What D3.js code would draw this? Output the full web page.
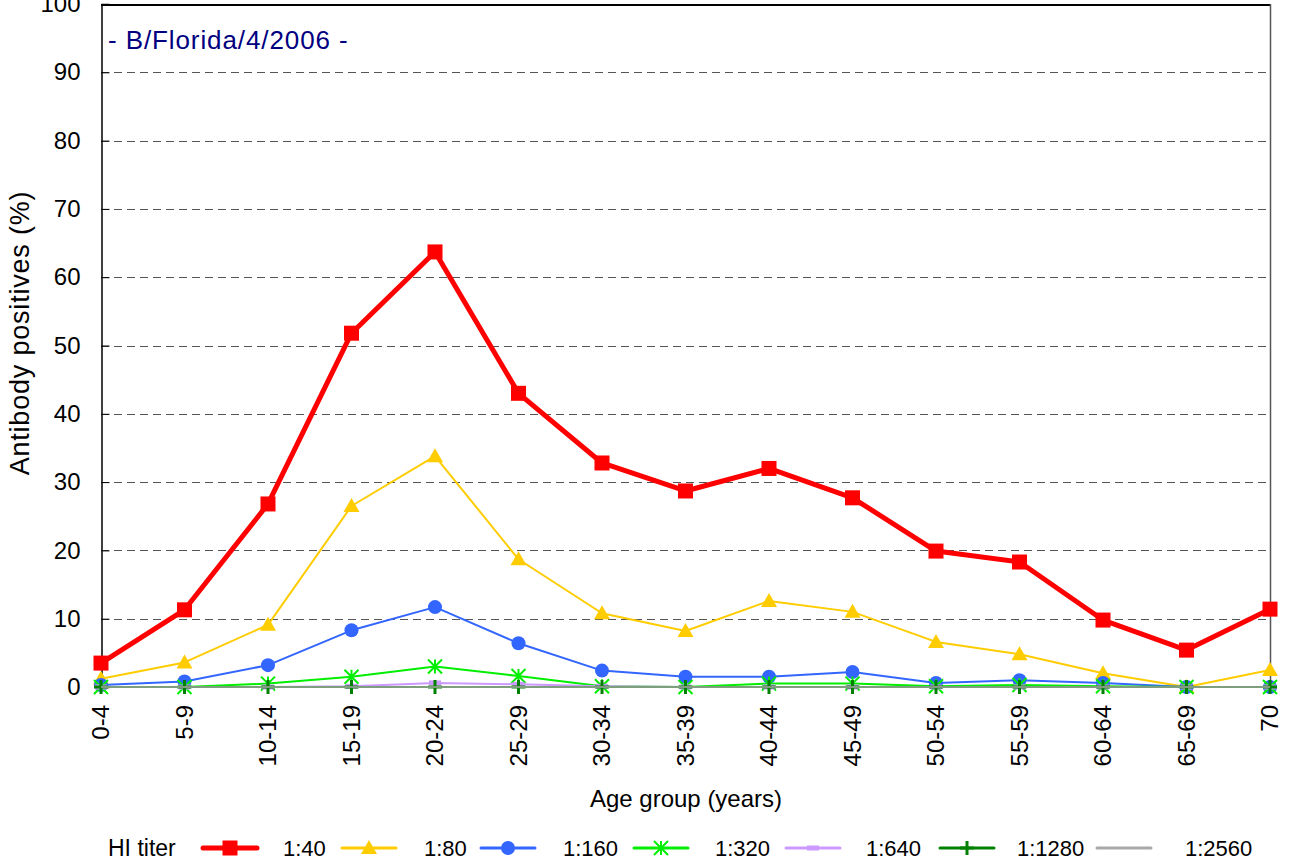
<!DOCTYPE html>
<html>
<head>
<meta charset="utf-8">
<script src="https://cdn.jsdelivr.net/npm/d3@7"></script>
<style>
  body { margin: 0; background: #fff; }
  svg { display: block; font-family: "Liberation Sans", Arial, sans-serif; }
</style>
</head>
<body>
<div id="chart"></div>
<script>
//******************************************************************************
//**  Antibody positives by age group
//******************************************************************************

// categories
var ageGroups = ["0-4","5-9","10-14","15-19","20-24","25-29","30-34","35-39",
                 "40-44","45-49","50-54","55-59","60-64","65-69","70"];

// series values (%)
var titer40   = [3.5, 11.3, 26.8, 51.8, 63.7, 43.0, 32.8, 28.7, 32.0, 27.7, 19.9, 18.3, 9.8, 5.4, 11.4];
var titer80   = [1.2, 3.6, 9.1, 26.5, 33.8, 18.7, 10.8, 8.2, 12.6, 11.0, 6.6, 4.8, 2.0, 0.0, 2.5];
var titer160  = [0.3, 0.8, 3.2, 8.3, 11.7, 6.4, 2.4, 1.5, 1.5, 2.2, 0.6, 1.0, 0.6, 0.0, 0.0];
var titer320  = [0.0, 0.0, 0.5, 1.5, 3.0, 1.6, 0.1, 0.0, 0.5, 0.5, 0.1, 0.3, 0.1, 0.0, 0.0];
var titer640  = [0.0, 0.0, 0.0, 0.1, 0.6, 0.4, 0.1, 0.0, 0.0, 0.0, 0.0, 0.0, 0.0, 0.0, 0.0];
var titer1280 = [0.0, 0.0, 0.0, 0.0, 0.0, 0.0, 0.0, 0.0, 0.0, 0.0, 0.0, 0.0, 0.0, 0.0, 0.0];
var titer2560 = [0.0, 0.0, 0.0, 0.0, 0.0, 0.0, 0.0, 0.0, 0.0, 0.0, 0.0, 0.0, 0.0, 0.0, 0.0];

// tick labels
var yTicks = [0, 10, 20, 30, 40, 50, 60, 70, 80, 90, 100];
var seriesNames = ["1:40","1:80","1:160","1:320","1:640","1:1280","1:2560"];


(function(){

  //**************************************************************************
  //** styles
  //**************************************************************************
    var series = [
        {name: seriesNames[0], values: titer40,   color: "#ff0000", width: 5, marker: "square"},
        {name: seriesNames[1], values: titer80,   color: "#ffcc00", width: 2, marker: "triangle"},
        {name: seriesNames[2], values: titer160,  color: "#3366ff", width: 2, marker: "circle"},
        {name: seriesNames[3], values: titer320,  color: "#00ee00", width: 2, marker: "star"},
        {name: seriesNames[4], values: titer640,  color: "#cc99ff", width: 2, marker: "dash"},
        {name: seriesNames[5], values: titer1280, color: "#008000", width: 2, marker: "plus"},
        {name: seriesNames[6], values: titer2560, color: "#a8a8a8", width: 2, marker: "none", opacity: 0.75}
    ];

    var width = 1289, height = 863;
    var plotLeft = 101, plotRight = 1270, plotTop = 4, plotBottom = 687;

    var svg = d3.select("#chart").append("svg")
        .attr("width", width)
        .attr("height", height);

    var x = d3.scalePoint().domain(ageGroups).range([plotLeft, plotRight]);
    var y = d3.scaleLinear().domain([0, 100]).range([plotBottom, plotTop]);


  // gridlines
    svg.append("g").selectAll("line")
        .data(yTicks.filter(function(d){ return d > 0 && d < 100; }))
        .enter().append("line")
        .attr("x1", plotLeft).attr("x2", plotRight)
        .attr("y1", function(d){ return Math.round(y(d)) + 0.5; })
        .attr("y2", function(d){ return Math.round(y(d)) + 0.5; })
        .attr("stroke", "#555")
        .attr("stroke-width", 1)
        .attr("stroke-dasharray", "8,5");

  // frame
    svg.append("line").attr("x1", plotLeft).attr("x2", plotRight + 1)
        .attr("y1", plotTop + 1).attr("y2", plotTop + 1)
        .attr("stroke", "#000").attr("stroke-width", 2);
    svg.append("line").attr("x1", plotRight + 0.5).attr("x2", plotRight + 0.5)
        .attr("y1", plotTop).attr("y2", plotBottom)
        .attr("stroke", "#555").attr("stroke-width", 1.5);
    svg.append("line").attr("x1", plotLeft).attr("x2", plotRight)
        .attr("y1", plotBottom).attr("y2", plotBottom)
        .attr("stroke", "#888").attr("stroke-width", 1);

  // y axis
    var yAxis = d3.axisLeft(y).tickValues(yTicks).tickSize(-8).tickPadding(21);
    var gy = svg.append("g").attr("transform", "translate(" + (plotLeft + 0.5) + ",0)").call(yAxis);
    gy.select(".domain").attr("stroke", "#000").attr("stroke-width", 1.5);
    gy.selectAll(".tick line").attr("stroke", "#000");
    gy.selectAll("text").attr("font-size", 24).attr("fill", "#000")
        .attr("font-family", "Liberation Sans, Arial, sans-serif");

  // x axis labels (rotated)
    svg.append("g").selectAll("text")
        .data(ageGroups)
        .enter().append("text")
        .attr("transform", function(d){ return "translate(" + (x(d) + 8) + ",705) rotate(-90)"; })
        .attr("text-anchor", "end")
        .attr("font-size", 24)
        .attr("fill", "#000")
        .text(function(d){ return d; });

  // axis titles
    svg.append("text")
        .attr("x", 686).attr("y", 807)
        .attr("text-anchor", "middle")
        .attr("font-size", 24)
        .text("Age group (years)");

    svg.append("text")
        .attr("transform", "translate(29,333) rotate(-90)")
        .attr("text-anchor", "middle")
        .attr("font-size", 27)
        .attr("letter-spacing", 0.8)
        .text("Antibody positives (%)");

  // strain label
    svg.append("text")
        .attr("x", 108).attr("y", 49)
        .attr("font-size", 26)
        .attr("letter-spacing", 0.9)
        .attr("fill", "#000080")
        .text("- B/Florida/4/2006 -");


  //**************************************************************************
  //** drawMarker
  //**************************************************************************
    var drawMarker = function(g, type, cx, cy, color){
        if (type === "square"){
            g.append("rect").attr("x", cx - 7.5).attr("y", cy - 7.5)
                .attr("width", 15).attr("height", 15).attr("fill", color);
        }
        else if (type === "triangle"){
            g.append("path")
                .attr("d", "M" + cx + "," + (cy - 8) + "L" + (cx + 8) + "," + (cy + 6) + "L" + (cx - 8) + "," + (cy + 6) + "Z")
                .attr("fill", color);
        }
        else if (type === "circle"){
            g.append("circle").attr("cx", cx).attr("cy", cy).attr("r", 7).attr("fill", color);
        }
        else if (type === "star"){
            var r = 7;
            var p = "M" + cx + "," + (cy - r) + "V" + (cy + r) +
                    "M" + (cx - r) + "," + (cy - r) + "L" + (cx + r) + "," + (cy + r) +
                    "M" + (cx + r) + "," + (cy - r) + "L" + (cx - r) + "," + (cy + r);
            g.append("path").attr("d", p).attr("stroke", color).attr("stroke-width", 2).attr("fill", "none");
        }
        else if (type === "dash"){
            g.append("rect").attr("x", cx - 6).attr("y", cy - 2.5)
                .attr("width", 12).attr("height", 5).attr("fill", color);
        }
        else if (type === "plus"){
            var s = 7;
            g.append("path")
                .attr("d", "M" + cx + "," + (cy - s) + "V" + (cy + s) + "M" + (cx - s) + "," + cy + "H" + (cx + s))
                .attr("stroke", color).attr("stroke-width", 3).attr("fill", "none");
        }
    };


  // series
    var line = d3.line()
        .x(function(d, i){ return x(ageGroups[i]); })
        .y(function(d){ return y(d); });

    series.forEach(function(s){
        var g = svg.append("g").attr("opacity", s.opacity || 1);
        g.append("path")
            .datum(s.values)
            .attr("d", line)
            .attr("fill", "none")
            .attr("stroke", s.color)
            .attr("stroke-width", s.width)
            .attr("stroke-linejoin", "round");
        s.values.forEach(function(v, i){
            drawMarker(g, s.marker, x(ageGroups[i]), y(v), s.color);
        });
    });


  // legend
    var legendY = 848;
    var legendX = [203, 342, 481, 634, 786, 940, 1097];
    var legendTextX = [283, 424, 563, 715, 866, 1017, 1185];

    svg.append("text").attr("x", 108).attr("y", legendY + 8)
        .attr("font-size", 23).text("HI titer");

    series.forEach(function(s, i){
        var g = svg.append("g");
        var x0 = legendX[i], x1 = x0 + 54;
        g.append("line").attr("x1", x0).attr("x2", x1)
            .attr("y1", legendY).attr("y2", legendY)
            .attr("stroke", s.color)
            .attr("stroke-width", s.width === 5 ? 5 : 3)
            .attr("stroke-linecap", "round");
        drawMarker(g, s.marker, (x0 + x1) / 2, legendY, s.color);
        svg.append("text").attr("x", legendTextX[i]).attr("y", legendY + 8)
            .attr("font-size", 22).text(s.name);
    });

})();
</script>
</body>
</html>
